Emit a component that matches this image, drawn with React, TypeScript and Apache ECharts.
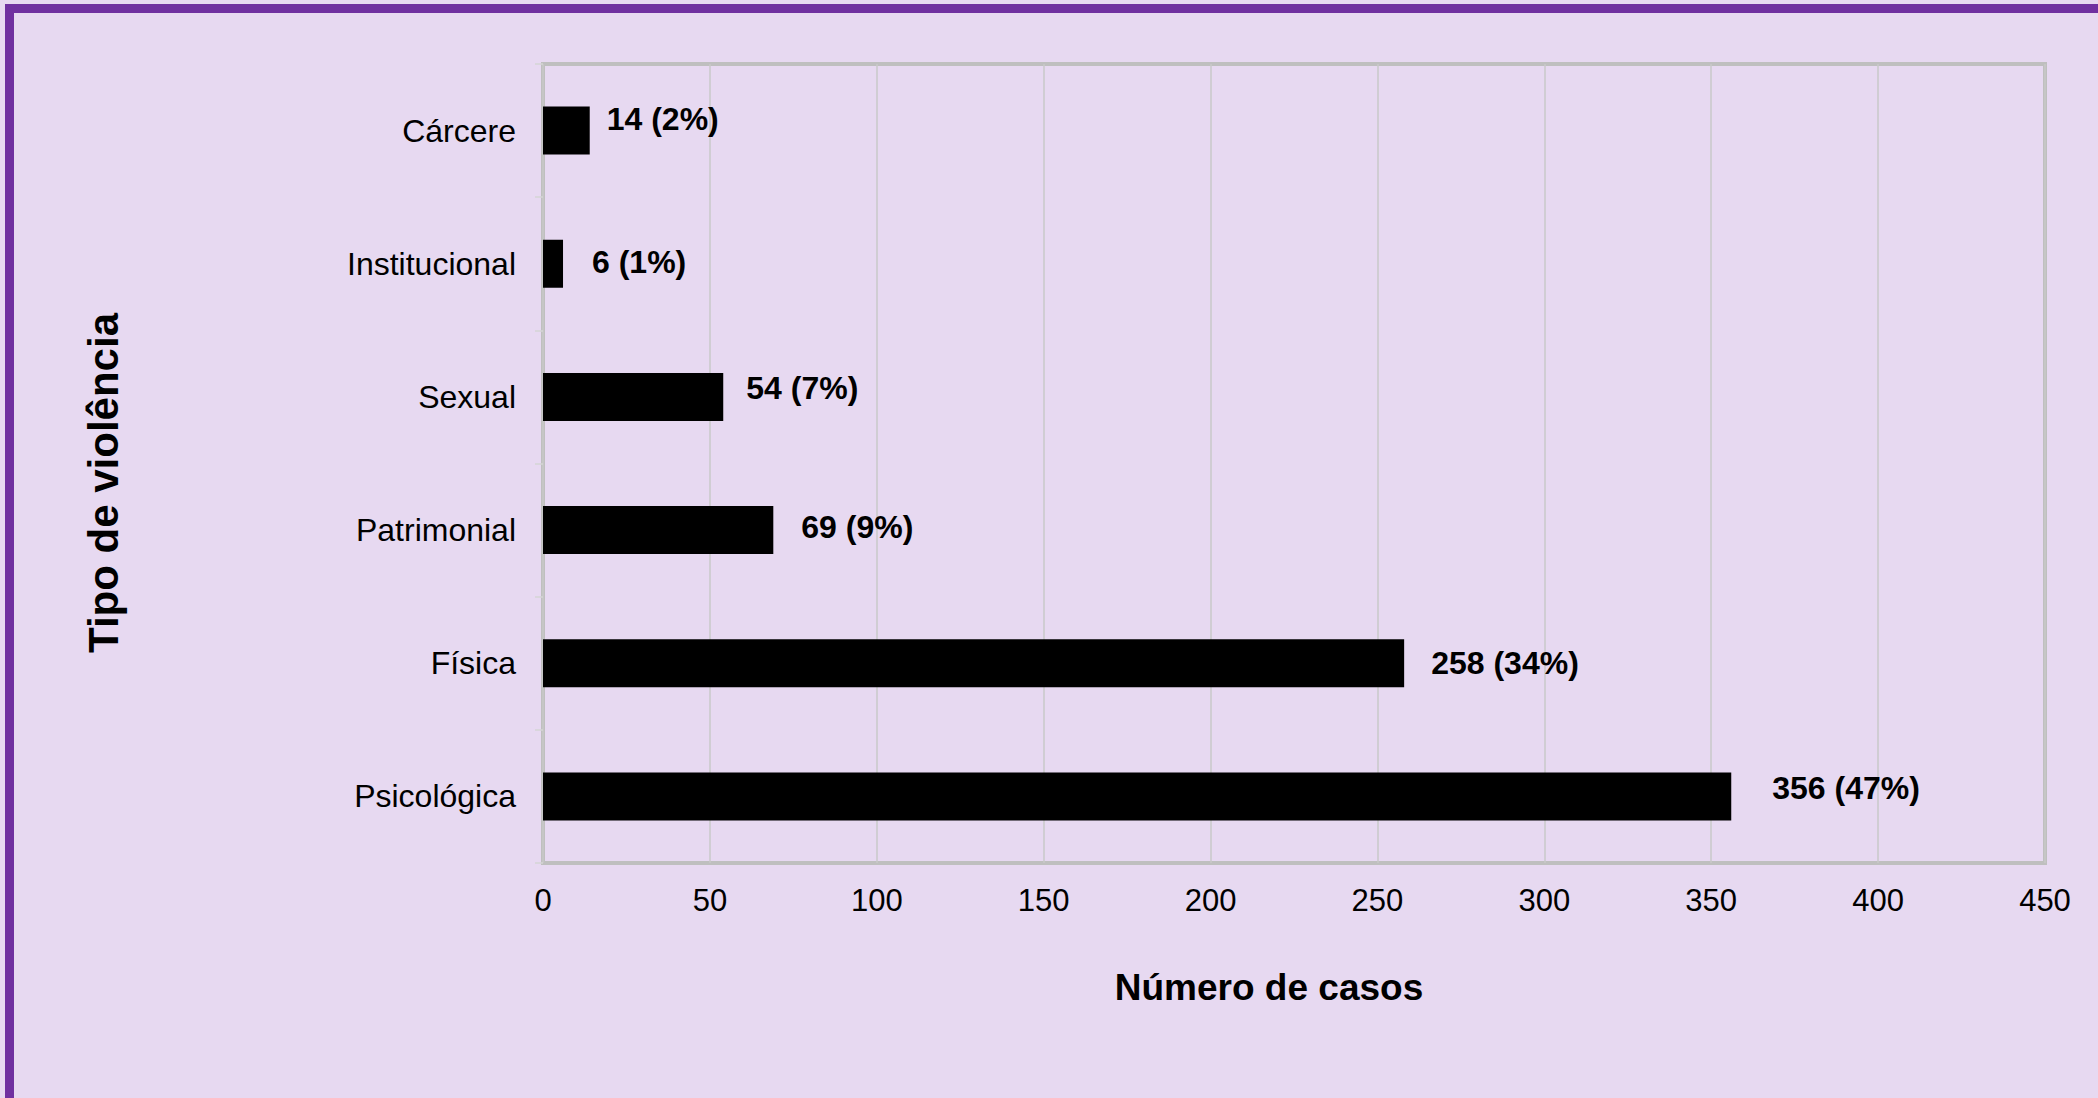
import React, { useEffect, useRef } from "react";
import * as echarts from "echarts";

// bottom-to-top order (ECharts category y axis starts at the bottom)
const categories = ["Psicológica", "Física", "Patrimonial", "Sexual", "Institucional", "Cárcere"];
const cases = [356, 258, 69, 54, 6, 14];
const percents = [47, 34, 9, 7, 1, 2];
const xTicks = { min: 0, max: 450, interval: 50 };
const labelOffsets = [
  [41, -8],
  [27, 0],
  [28, -3],
  [23, -9],
  [29, -2],
  [17, -12],
];
const xTitle = "Número de casos";
const yTitle = "Tipo de violência";

const FONT = "'Liberation Sans', Arial, sans-serif";

export default function App() {
  const ref = useRef<HTMLDivElement>(null);
  useEffect(() => {
    if (!ref.current) return;
    const chart = echarts.init(ref.current, undefined, { renderer: "svg" });
    const data = cases.map((v, i) => ({
      value: v,
      label: { offset: labelOffsets[i] },
    }));
    chart.setOption({
      animation: false,
      backgroundColor: "#E7D9F1",
      textStyle: { fontFamily: FONT },
      grid: {
        left: 543,
        top: 64,
        width: 1502,
        height: 799,
        show: true,
        borderColor: "#BFBFBF",
        borderWidth: 4,
        backgroundColor: "transparent",
        containLabel: false,
      },
      xAxis: {
        type: "value",
        min: xTicks.min,
        max: xTicks.max,
        interval: xTicks.interval,
        axisLine: { show: false },
        axisTick: { show: false },
        axisLabel: { fontSize: 31, color: "#000", margin: 22, fontFamily: FONT },
        splitLine: { show: true, lineStyle: { color: "#C8C8C8", width: 1.5 } },
      },
      yAxis: {
        type: "category",
        data: categories,
        axisLine: { show: false },
        axisTick: { show: true, length: 8, lineStyle: { color: "#D4D4D4", width: 1.5 } },
        axisLabel: { fontSize: 32, color: "#000", margin: 27, fontFamily: FONT },
        splitLine: { show: false },
      },
      series: [
        {
          type: "bar",
          data,
          barWidth: 48,
          itemStyle: { color: "#000" },
          label: {
            show: true,
            position: "right",
            distance: 0,
            fontSize: 32,
            fontWeight: "bold",
            color: "#000",
            fontFamily: FONT,
            formatter: (p: any) => `${cases[p.dataIndex]} (${percents[p.dataIndex]}%)`,
          },
        },
      ],
      graphic: [
        {
          type: "rect",
          silent: true,
          shape: { x: 9.5, y: 8.5, width: 2300, height: 1300 },
          style: { fill: "none", stroke: "#7030A0", lineWidth: 9 },
        },
        {
          type: "text",
          x: 1269,
          y: 987,
          style: {
            text: xTitle,
            fontSize: 37,
            fontWeight: "bold",
            fontFamily: FONT,
            fill: "#000",
            align: "center",
            verticalAlign: "middle",
          },
        },
        {
          type: "text",
          x: 103,
          y: 483,
          rotation: Math.PI / 2,
          style: {
            text: yTitle,
            fontSize: 42,
            fontWeight: "bold",
            fontFamily: FONT,
            fill: "#000",
            align: "center",
            verticalAlign: "middle",
          },
        },
      ],
    });
    return () => chart.dispose();
  }, []);
  return (
    <div
      ref={ref}
      style={{ position: "absolute", left: 0, top: 0, width: 2098, height: 1098 }}
    />
  );
}
